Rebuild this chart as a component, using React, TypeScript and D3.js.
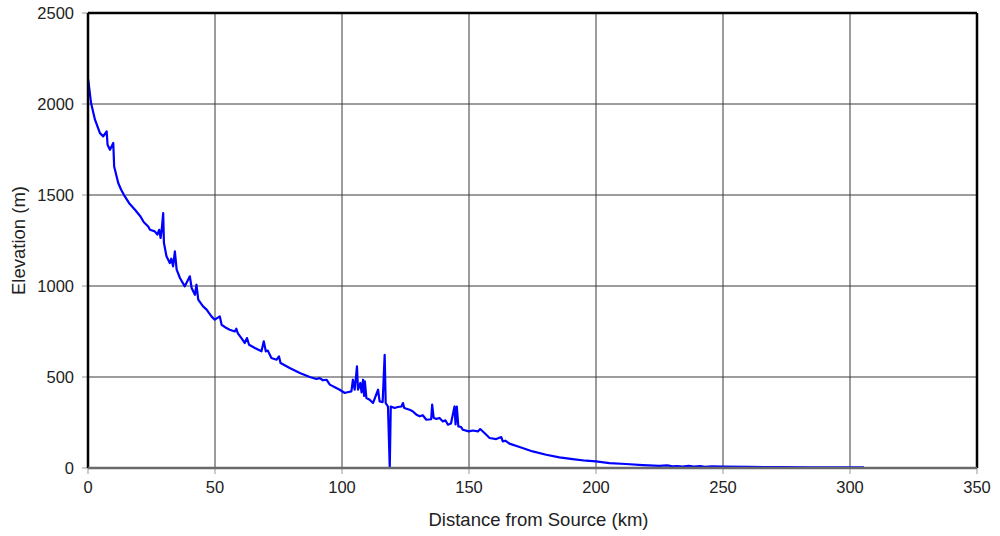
import React from "react";
import * as d3 from "d3";

const distanceKm: number[] = [
  0, 0.1, 1.2, 2.75, 4.7, 6.0, 7.35, 7.7, 8.65, 9.95, 10.3, 11.9, 13.0, 14.5, 16.2, 18.5, 20.5, 22.0, 23.7,
  24.4, 26.3, 27.3, 28.0, 28.6, 29.1, 29.6, 29.9, 30.9, 32.2, 32.8, 33.5, 34.2, 34.9, 36.2,
  38.1, 40.1, 40.8, 42.1, 42.7, 43.4, 45.3, 46.7, 48.6, 49.9, 51.9, 52.6, 54.5, 55.8,
  57.8, 58.4, 59.0, 60.4, 61.7, 62.6, 63.4, 65.7, 68.3, 69.2, 70.0, 70.8, 72.2, 74.2, 75.2, 75.8,
  79.4, 83.4, 87.3, 89.9, 91.2, 92.5, 93.9, 95.2, 97.0, 99.1, 101.1, 101.7, 103.7, 104.3, 105.0,
  105.9, 106.3, 107.2, 107.7, 108.3, 108.7, 109.0, 109.6, 110.9, 112.2, 114.2, 114.8, 116.0,
  116.8, 117.2, 118.1, 118.8, 119.2, 120.7, 122.0, 123.4, 124.0, 124.5, 126.6, 127.8,
  129.3, 130.6, 131.8, 133.2, 135.1, 135.5, 136.1, 137.2, 138.4, 139.7, 140.7, 141.7, 142.9,
  144.3, 144.7, 145.2, 145.8, 146.9, 147.6, 149.9, 151.5, 153.5, 154.4, 156.1, 158.1, 160.7,
  162.7, 163.3, 164.3, 165.9, 169.9, 175.1, 180.4, 185.6, 190.8, 196.1, 200.0, 205.3,
  211.8, 218.4, 224.9, 228.0, 230.2, 232.0, 234.0, 236.5, 238.5, 241.0, 243.0, 245.5,
  250.0, 260.0, 272.0, 285.0, 295.0, 305.5,
];

const elevationM: number[] = [
  2135, 2133, 2005, 1914, 1840, 1822, 1850, 1776, 1749, 1786, 1657, 1566, 1530, 1492, 1455, 1419, 1385, 1350, 1327,
  1309, 1300, 1282, 1309, 1264, 1320, 1401, 1236, 1163, 1126, 1150, 1108, 1190, 1090, 1044,
  998, 1053, 989, 952, 1007, 925, 888, 870, 833, 815, 833, 787, 769, 760,
  750, 765, 740, 714, 687, 714, 677, 659, 641, 696, 641, 645, 604, 595, 613, 577,
  549, 522, 500, 489, 494, 482, 485, 458, 445, 430, 412, 415, 421, 485, 430,
  558, 430, 467, 415, 485, 396, 476, 385, 375, 357, 430, 366, 362,
  622, 357, 338, 0, 338, 330, 335, 338, 357, 330, 320, 312,
  293, 284, 290, 265, 268, 348, 275, 270, 275, 256, 262, 238, 245,
  338, 240, 338, 229, 225, 210, 201, 206, 201, 214, 192, 165, 159,
  170, 146, 150, 134, 115, 91, 73, 58, 49, 40, 36, 27,
  22, 16, 12, 14, 9, 11, 8, 12, 8, 10, 7, 9,
  8, 6, 5, 4, 3, 3,
];

const xTicks: number[] = [0, 50, 100, 150, 200, 250, 300, 350];
const yTicks: number[] = [0, 500, 1000, 1500, 2000, 2500];

export default function App() {
  const width = 1000;
  const height = 536;
  const left = 88;
  const right = 977;
  const top = 13;
  const bottom = 468;

  const x = d3.scaleLinear().domain([0, 350]).range([left, right]);
  const y = d3.scaleLinear().domain([0, 2500]).range([bottom, top]);

  const pts: [number, number][] = distanceKm.map((d, i) => [d, elevationM[i]]);
  const line = d3
    .line<[number, number]>()
    .x((d) => x(d[0]))
    .y((d) => y(d[1]));

  const font = "Arial, 'Liberation Sans', sans-serif";

  return (
    <svg
      width={width}
      height={height}
      style={{ position: "absolute", left: 0, top: 0, background: "#fff" }}
    >
      {xTicks.map((t) => (
        <line key={"gx" + t} x1={x(t)} x2={x(t)} y1={top} y2={bottom} stroke="#3a3a3a" strokeWidth={1} />
      ))}
      {yTicks.map((t) => (
        <line key={"gy" + t} x1={left} x2={right} y1={y(t)} y2={y(t)} stroke="#3a3a3a" strokeWidth={1} />
      ))}
      {xTicks.map((t) => (
        <line key={"tx" + t} x1={x(t)} x2={x(t)} y1={bottom} y2={bottom + 6} stroke="#999" strokeWidth={1} />
      ))}
      {yTicks.map((t) => (
        <line key={"ty" + t} x1={left - 6} x2={left} y1={y(t)} y2={y(t)} stroke="#999" strokeWidth={1} />
      ))}
      <path d={line(pts) || ""} fill="none" stroke="#0000ff" strokeWidth={2.2} strokeLinejoin="round" />
      <line x1={left} x2={right} y1={top} y2={top} stroke="#000" strokeWidth={2.5} />
      <line x1={left} x2={left} y1={top} y2={bottom} stroke="#000" strokeWidth={2.5} />
      <line x1={right} x2={right} y1={top} y2={bottom} stroke="#000" strokeWidth={2.5} />
      <line x1={left} x2={right} y1={bottom} y2={bottom} stroke="#6a6a6a" strokeWidth={2.5} />
      {xTicks.map((t) => (
        <text key={"lx" + t} x={x(t)} y={bottom + 25} textAnchor="middle" fontFamily={font} fontSize={16.5} fill="#222">
          {t}
        </text>
      ))}
      {yTicks.map((t) => (
        <text key={"ly" + t} x={74} y={y(t) + 6} textAnchor="end" fontFamily={font} fontSize={16.5} fill="#222">
          {t}
        </text>
      ))}
      <text x={(left + right) / 2 + 6} y={526} textAnchor="middle" fontFamily={font} fontSize={18.5} fill="#222">
        Distance from Source (km)
      </text>
      <text
        transform={`translate(25, ${(top + bottom) / 2}) rotate(-90)`}
        textAnchor="middle"
        fontFamily={font}
        fontSize={18.5}
        fill="#222"
      >
        Elevation (m)
      </text>
    </svg>
  );
}
